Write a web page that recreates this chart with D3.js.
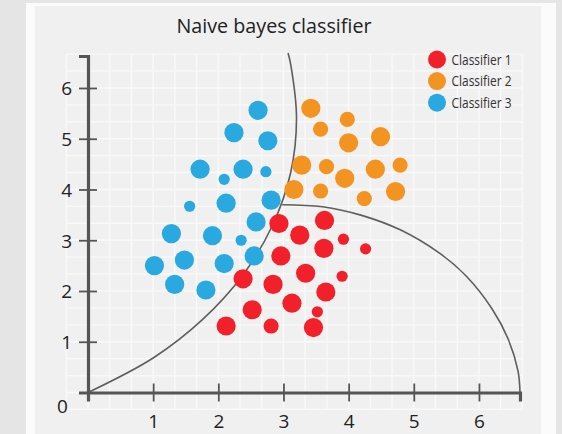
<!DOCTYPE html>
<html>
<head>
<meta charset="utf-8">
<script src="https://cdn.jsdelivr.net/npm/d3@7"></script>
<style>
  html, body { margin: 0; padding: 0; background: #e6e6e6; }
  svg { display: block; }
</style>
</head>
<body>
<svg id="chart" width="562" height="434"></svg>
<script>
// ---------- data ----------
const chartTitle = "Naive bayes classifier";
const seriesNames = ["Classifier 1", "Classifier 2", "Classifier 3"];
const xTicks = [1, 2, 3, 4, 5, 6];
const yTicks = [1, 2, 3, 4, 5, 6];
const originLabel = "0";
// [x, y, sizeClass]  sizeClass: 1 small, 2 medium, 3 large
const classifier1 = [
  [2.93, 3.33, 3], [3.63, 3.39, 3], [3.25, 3.10, 3], [3.92, 3.02, 1], [4.26, 2.83, 1],
  [2.96, 2.69, 3], [3.62, 2.84, 3], [3.34, 2.35, 3], [3.90, 2.29, 1], [2.38, 2.24, 3],
  [2.84, 2.13, 3], [3.65, 1.98, 3], [3.13, 1.76, 3], [3.52, 1.59, 1], [2.52, 1.63, 3],
  [2.12, 1.31, 3], [2.81, 1.31, 2], [3.46, 1.28, 3]
];
const classifier2 = [
  [3.42, 5.60, 3], [3.98, 5.38, 2], [3.57, 5.19, 2], [4.49, 5.04, 3], [4.00, 4.92, 3],
  [3.28, 4.48, 3], [3.66, 4.45, 2], [4.41, 4.40, 3], [4.79, 4.48, 2], [3.94, 4.22, 3],
  [3.16, 4.00, 3], [3.57, 3.97, 2], [4.24, 3.82, 2], [4.72, 3.96, 3]
];
const classifier3 = [
  [2.61, 5.56, 3], [2.24, 5.12, 3], [2.76, 4.96, 3], [1.72, 4.40, 3], [2.38, 4.40, 3],
  [2.09, 4.20, 1], [2.73, 4.35, 1], [1.56, 3.67, 1], [2.12, 3.73, 3], [2.81, 3.79, 3],
  [2.58, 3.36, 3], [1.28, 3.13, 3], [1.91, 3.09, 3], [2.35, 3.00, 1], [1.02, 2.50, 3],
  [1.48, 2.61, 3], [2.09, 2.54, 3], [2.55, 2.69, 3], [1.33, 2.13, 3], [1.81, 2.02, 3]
];
// decision boundaries
const boundaryA = [
  [0, 0], [1.00, 0.68], [1.76, 1.44], [2.38, 2.32], [2.83, 3.29],
  [3.11, 4.33], [3.20, 5.40], [3.11, 6.47], [3.07, 6.69]
];
const boundaryB = [
  [2.98, 3.70], [3.6, 3.66], [4.2, 3.49], [4.8, 3.20], [5.4, 2.74],
  [5.8, 2.30], [6.2, 1.65], [6.45, 1.05], [6.6, 0.42], [6.63, 0]
];

// ---------- layout ----------
const svg = d3.select("#chart");
const W = 562, H = 434;
const colors = d3.scaleOrdinal().domain(seriesNames).range(["#f2202a", "#f39422", "#2aa8e0"]);
const radius = d3.scaleOrdinal().domain([1, 2, 3]).range([5.6, 7.6, 9.6]);

const x = d3.scaleLinear().domain([0, 6.63]).range([88, 520]);
const y = d3.scaleLinear().domain([0, 6.63]).range([392.5, 56]);

// backgrounds
svg.append("rect").attr("x", 0).attr("y", 0).attr("width", W).attr("height", H).attr("fill", "#e5e5e5");
svg.append("rect").attr("x", 26).attr("y", 3).attr("width", 530).attr("height", H - 3).attr("fill", "#fbfbfb");
svg.append("rect").attr("x", 35).attr("y", 6).attr("width", 506).attr("height", H - 6).attr("fill", "#f0f0f0");

// grid (every 1/3 unit)
const gridVals = d3.range(-1, 21).map(i => i / 3);
const grid = svg.append("g").attr("stroke", "#f9f9f9").attr("stroke-width", 1.4);
const gx0 = x(-1 / 3), gx1 = x(20 / 3), gy0 = y(20 / 3), gy1 = y(-1 / 3);
grid.selectAll("line.v").data(gridVals).join("line")
  .attr("x1", d => x(d)).attr("x2", d => x(d)).attr("y1", gy0).attr("y2", gy1);
grid.selectAll("line.h").data(gridVals).join("line")
  .attr("y1", d => y(d)).attr("y2", d => y(d)).attr("x1", gx0).attr("x2", gx1);

const font = "Open Sans, Noto Sans, sans-serif";

// title
svg.append("text").attr("x", 274).attr("y", 33).attr("text-anchor", "middle")
  .attr("font-family", font).attr("font-size", 20.5)
  .attr("fill", "#222").attr("textLength", 195).attr("lengthAdjust", "spacingAndGlyphs")
  .text(chartTitle);

// boundaries
svg.append("path").datum(boundaryA)
  .attr("d", d3.line().x(d => x(d[0])).y(d => y(d[1])).curve(d3.curveCatmullRom.alpha(0.5)))
  .attr("fill", "none").attr("stroke", "#5e5e5e").attr("stroke-width", 1.6);
svg.append("path").datum(boundaryB)
  .attr("d", d3.line().x(d => x(d[0])).y(d => y(d[1])).curve(d3.curveCatmullRom.alpha(0.5)))
  .attr("fill", "none").attr("stroke", "#5e5e5e").attr("stroke-width", 1.6);

// axes
const fmt = d3.format("d");
const xAxis = svg.append("g").attr("transform", `translate(0,${y(0)})`)
  .call(d3.axisBottom(x).tickValues(xTicks).tickFormat(fmt).tickSizeOuter(0).tickSize(9).tickPadding(13));
const yAxis = svg.append("g").attr("transform", `translate(${x(0)},0)`)
  .call(d3.axisLeft(y).tickValues(yTicks).tickFormat(fmt).tickSizeOuter(0).tickSize(9).tickPadding(7));
[xAxis, yAxis].forEach(g => {
  g.select(".domain").attr("stroke", "#555").attr("stroke-width", 3.2);
  g.selectAll(".tick line").attr("stroke", "#555").attr("stroke-width", 1.8);
  g.selectAll(".tick text").attr("font-family", font).attr("font-size", 19).attr("fill", "#222");
});
xAxis.selectAll(".tick line").attr("y1", -9).attr("y2", 9);
yAxis.selectAll(".tick line").attr("x1", -9).attr("x2", 9);
yAxis.selectAll(".tick text").attr("dy", "0.36em");
// origin label
svg.append("text").attr("x", 62.5).attr("y", 413).attr("text-anchor", "middle")
  .attr("font-family", font).attr("font-size", 19).attr("fill", "#222").text(originLabel);

// points
const allSeries = [classifier1, classifier2, classifier3];
allSeries.forEach((pts, i) => {
  svg.append("g").selectAll("circle").data(pts).join("circle")
    .attr("cx", d => x(d[0])).attr("cy", d => y(d[1])).attr("r", d => radius(d[2]))
    .attr("fill", colors(seriesNames[i]));
});

// legend
const legend = svg.append("g").attr("transform", "translate(437,59.5)");
const li = legend.selectAll("g").data(seriesNames).join("g")
  .attr("transform", (d, i) => `translate(0,${i * 21.6})`);
li.append("circle").attr("r", 9).attr("fill", d => colors(d));
li.append("text").attr("x", 14.5).attr("y", 5).attr("font-family", font)
  .attr("font-size", 14.5).attr("fill", "#333")
  .attr("textLength", 60).attr("lengthAdjust", "spacingAndGlyphs").text(d => d);
</script>
</body>
</html>
